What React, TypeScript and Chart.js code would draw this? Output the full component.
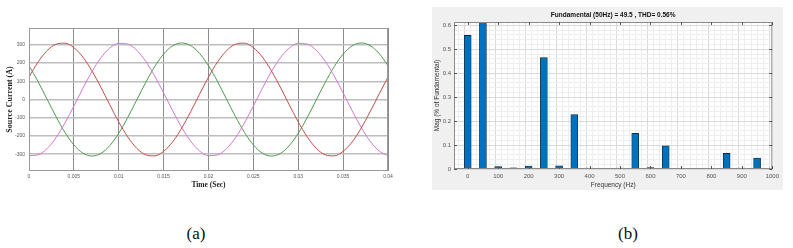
import React, { useEffect, useRef } from "react";
import { Chart, registerables } from "chart.js";

Chart.register(...registerables);

// ---------- Chart (a): three-phase source current ----------
const timeA = [
  0, 0.001, 0.002, 0.003, 0.004, 0.005, 0.006, 0.007, 0.008, 0.009,
  0.01, 0.011, 0.012, 0.013, 0.014, 0.015, 0.016, 0.017, 0.018, 0.019,
  0.02, 0.021, 0.022, 0.023, 0.024, 0.025, 0.026, 0.027, 0.028, 0.029,
  0.03, 0.031, 0.032, 0.033, 0.034, 0.035, 0.036, 0.037, 0.038, 0.039, 0.04,
];
const phaseRed = [
  123, 205, 267, 303, 309, 284, 233, 158, 68, -29,
  -123, -205, -267, -303, -309, -284, -233, -158, -68, 29,
  123, 205, 267, 303, 309, 284, 233, 158, 68, -29,
  -123, -205, -267, -303, -309, -284, -233, -158, -68, 29, 123,
];
const phaseMagenta = [
  -308, -304, -270, -210, -129, -36, 61, 152, 228, 282,
  308, 304, 270, 210, 129, 36, -61, -152, -228, -282,
  -308, -304, -270, -210, -129, -36, 61, 152, 228, 282,
  308, 304, 270, 210, 129, 36, -61, -152, -228, -282, -308,
];
const phaseGreen = [
  185, 99, 3, -93, -180, -249, -294, -310, -296, -253,
  -185, -99, -3, 93, 180, 249, 294, 310, 296, 253,
  185, 99, 3, -93, -180, -249, -294, -310, -296, -253,
  -185, -99, -3, 93, 180, 249, 294, 310, 296, 253, 185,
];
const xTicksA = [0, 0.005, 0.01, 0.015, 0.02, 0.025, 0.03, 0.035, 0.04];
const yTicksA = [-300, -200, -100, 0, 100, 200, 300];

// ---------- Chart (b): FFT spectrum ----------
const freqB = [0, 50, 100, 150, 200, 250, 300, 350, 400, 450, 500, 550, 600, 650, 700, 750, 800, 850, 900, 950];
const magB = [0.558, 100, 0.01, 0.005, 0.012, 0.465, 0.013, 0.227, 0.004, 0.003, 0.004, 0.149, 0.006, 0.097, 0.001, 0.0005, 0.003, 0.065, 0.004, 0.046];
const xTicksB = [0, 100, 200, 300, 400, 500, 600, 700, 800, 900, 1000];
const yTicksB = [0, 0.1, 0.2, 0.3, 0.4, 0.5, 0.6];

const frameA = {
  id: "frameA",
  beforeDraw(chart: any) {
    const { ctx, chartArea: a } = chart;
    ctx.save();
    ctx.fillStyle = "#ffffff";
    ctx.fillRect(a.left, a.top, a.right - a.left, a.bottom - a.top);
    ctx.restore();
  },
  afterDraw(chart: any) {
    const { ctx, chartArea: a } = chart;
    ctx.save();
    ctx.strokeStyle = "#9a9a9a";
    ctx.lineWidth = 1;
    ctx.strokeRect(a.left + 0.5, a.top + 0.5, a.right - a.left - 1, a.bottom - a.top - 1);
    ctx.restore();
  },
};

const frameB = {
  id: "frameB",
  beforeDraw(chart: any) {
    const { ctx, chartArea: a } = chart;
    ctx.save();
    ctx.fillStyle = "#ffffff";
    ctx.fillRect(a.left, a.top, a.right - a.left, a.bottom - a.top);
    ctx.restore();
  },
  afterDraw(chart: any) {
    const { ctx, chartArea: a } = chart;
    ctx.save();
    ctx.strokeStyle = "#8a8a8a";
    ctx.lineWidth = 1;
    ctx.strokeRect(a.left + 0.5, a.top + 0.5, a.right - a.left - 1, a.bottom - a.top - 1);
    const xs = chart.scales.x;
    const ys = chart.scales.y;
    ctx.strokeStyle = "#555";
    xTicksB.forEach((v) => {
      const px = Math.round(xs.getPixelForValue(v)) + 0.5;
      ctx.beginPath();
      ctx.moveTo(px, a.top);
      ctx.lineTo(px, a.top + 3);
      ctx.moveTo(px, a.bottom);
      ctx.lineTo(px, a.bottom - 3);
      ctx.stroke();
    });
    yTicksB.forEach((v) => {
      const py = Math.round(ys.getPixelForValue(v)) + 0.5;
      ctx.beginPath();
      ctx.moveTo(a.right, py);
      ctx.lineTo(a.right - 3, py);
      ctx.moveTo(a.left, py);
      ctx.lineTo(a.left + 3, py);
      ctx.stroke();
    });
    ctx.restore();
  },
};

function ChartA() {
  const ref = useRef<HTMLCanvasElement>(null);
  useEffect(() => {
    const mk = (vals: number[]) => timeA.map((t, i) => ({ x: t, y: vals[i] }));
    const chart = new Chart(ref.current!, {
      type: "line",
      data: {
        datasets: [
          { data: mk(phaseRed), borderColor: "#c0504d", borderWidth: 1, pointRadius: 0, cubicInterpolationMode: "monotone" },
          { data: mk(phaseMagenta), borderColor: "#d27ad2", borderWidth: 1, pointRadius: 0, cubicInterpolationMode: "monotone" },
          { data: mk(phaseGreen), borderColor: "#4f9a4f", borderWidth: 1, pointRadius: 0, cubicInterpolationMode: "monotone" },
        ],
      } as any,
      options: {
        animation: false,
        responsive: false,
        maintainAspectRatio: false,
        layout: { padding: { left: 0, right: 12, top: 28, bottom: 0 } },
        plugins: { legend: { display: false }, tooltip: { enabled: false } },
        scales: {
          x: {
            type: "linear",
            min: 0,
            max: 0.04,
            afterBuildTicks: (s: any) => { s.ticks = xTicksA.map((v) => ({ value: v })); },
            afterFit: (s: any) => { s.height = 21; },
            grid: { color: "#8c8c8c", lineWidth: 1, drawTicks: false },
            border: { display: false },
            ticks: {
              autoSkip: false,
              maxRotation: 0,
              padding: 3,
              color: "#555",
              font: { family: "Liberation Sans", size: 5 },
              callback: (v: any) => String(Number(v)),
            },
            title: {
              display: true,
              text: "Time (Sec)",
              color: "#222",
              padding: { top: 0, bottom: 2 },
              font: { family: "Liberation Serif", size: 7.5, weight: "bold" },
            },
          },
          y: {
            min: -392,
            max: 392,
            afterBuildTicks: (s: any) => { s.ticks = yTicksA.map((v) => ({ value: v })); },
            afterFit: (s: any) => { s.width = 29; },
            grid: { color: "#bdbdbd", lineWidth: 1.5, drawTicks: false },
            border: { display: false },
            ticks: {
              autoSkip: false,
              padding: 4,
              color: "#555",
              font: { family: "Liberation Sans", size: 5 },
            },
            title: {
              display: true,
              text: "Source Current (A)",
              color: "#222",
              padding: { top: 5, bottom: 0 },
              font: { family: "Liberation Serif", size: 8, weight: "bold" },
            },
          },
        },
      } as any,
      plugins: [frameA],
    });
    return () => chart.destroy();
  }, []);
  return <canvas ref={ref} width={400} height={192} style={{ position: "absolute", left: 0, top: 0, width: 400, height: 192 }} />;
}

function ChartB() {
  const ref = useRef<HTMLCanvasElement>(null);
  useEffect(() => {
    const minorX: number[] = [];
    for (let v = -40; v <= 1000; v += 20) minorX.push(v);
    const minorY: number[] = [];
    for (let i = 0; i <= 30; i++) minorY.push(Math.round(i * 2) / 100);
    const chart = new Chart(ref.current!, {
      type: "bar",
      data: {
        datasets: [
          {
            data: freqB.map((f, i) => ({ x: f, y: magB[i] })),
            backgroundColor: "#0072bd",
            borderColor: "#0c2a44",
            borderWidth: 0.8,
            barThickness: 7,
          },
        ],
      } as any,
      options: {
        animation: false,
        responsive: false,
        maintainAspectRatio: false,
        layout: { padding: { left: 0, right: 9, top: 0, bottom: 0 } },
        plugins: {
          legend: { display: false },
          tooltip: { enabled: false },
          title: {
            display: true,
            fullSize: false,
            text: "Fundamental (50Hz) = 49.5 , THD= 0.56%",
            color: "#111",
            padding: { top: 4, bottom: 3.2 },
            font: { family: "Liberation Sans", size: 6.5, weight: "bold" },
          },
        },
        scales: {
          x: {
            type: "linear",
            min: -45,
            max: 1000,
            offset: false,
            afterBuildTicks: (s: any) => { s.ticks = minorX.map((v) => ({ value: v })); },
            afterFit: (s: any) => { s.height = 21; },
            grid: {
              drawTicks: false,
              color: (c: any) => (c.tick && c.tick.value % 100 === 0 ? "#d9d9d9" : "#eeeeee"),
              lineWidth: 1,
            },
            border: { display: false },
            ticks: {
              autoSkip: false,
              maxRotation: 0,
              padding: 4,
              color: "#555",
              font: { family: "Liberation Sans", size: 6 },
              callback: (v: any) => (xTicksB.includes(Number(v)) ? String(v) : ""),
            },
            title: {
              display: true,
              text: "Frequency (Hz)",
              color: "#333",
              padding: { top: 0, bottom: 1 },
              font: { family: "Liberation Sans", size: 6.5 },
            },
          },
          y: {
            min: 0,
            max: 0.614,
            afterBuildTicks: (s: any) => { s.ticks = minorY.map((v) => ({ value: v })); },
            afterFit: (s: any) => { s.width = 22; },
            grid: {
              drawTicks: false,
              color: (c: any) => {
                const v = c.tick ? Math.round(c.tick.value * 100) : 1;
                return v % 10 === 0 ? "#d9d9d9" : "#eeeeee";
              },
              lineWidth: 1,
            },
            border: { display: false },
            ticks: {
              autoSkip: false,
              padding: 3,
              color: "#555",
              font: { family: "Liberation Sans", size: 6 },
              callback: (v: any) => {
                const n = Math.round(Number(v) * 100);
                return n % 10 === 0 ? String(n / 100) : "";
              },
            },
            title: {
              display: true,
              text: "Mag (% of Fundamental)",
              color: "#333",
              padding: { top: 1, bottom: 1 },
              font: { family: "Liberation Sans", size: 6.5 },
            },
          },
        },
      } as any,
      plugins: [frameB],
    });
    return () => chart.destroy();
  }, []);
  return (
    <div style={{ position: "absolute", left: 432, top: 7, width: 351, height: 183, background: "#f0f0f0" }}>
      <canvas ref={ref} width={351} height={183} style={{ width: 351, height: 183, display: "block" }} />
    </div>
  );
}

export default function App() {
  return (
    <div style={{ position: "fixed", left: 0, top: 0, width: 793, height: 248, background: "#fff", overflow: "hidden" }}>
      <ChartA />
      <ChartB />
      <div style={{ position: "absolute", left: 0, top: 224, width: 392, textAlign: "center", font: "17px 'Liberation Serif'", color: "#111" }}>(a)</div>
      <div style={{ position: "absolute", left: 432, top: 224, width: 392, textAlign: "center", font: "17px 'Liberation Serif'", color: "#111" }}>(b)</div>
    </div>
  );
}
